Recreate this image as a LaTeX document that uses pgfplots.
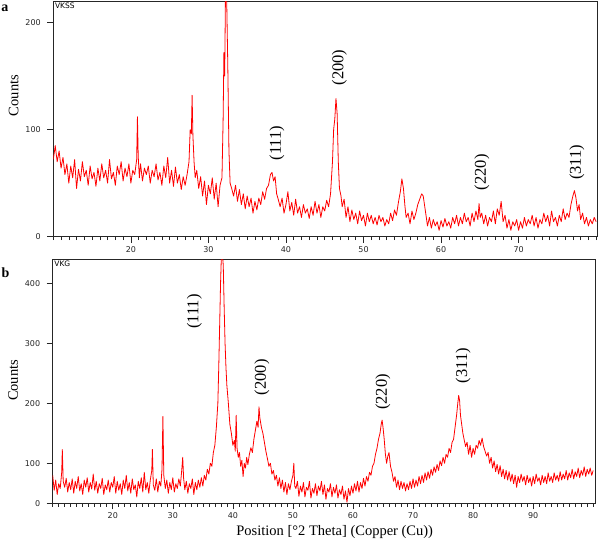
\documentclass[border=0pt]{standalone}
\usepackage{pgfplots}
\pgfplotsset{compat=1.18}
\usepackage{fontspec}
\setmainfont{Liberation Serif}
\newfontfamily\ticksans{DejaVu Sans}

\pgfplotsset{
  xrd/.style={
    scale only axis,
    xmin=10,
    axis line style={line width=0.8pt, black!85},
    tick align=outside,
    xtick pos=bottom, ytick pos=left,
    major tick length=6pt, minor tick length=3.5pt,
    tick style={black!85, line width=0.6pt},
    ticklabel style={font=\ticksans\fontsize{8}{9}\selectfont, text=black!85},
    yticklabel style={xshift=-3pt},
    /pgf/number format/assume math mode=true,
    ylabel={Counts},
    ylabel style={font=\fontsize{14.5}{16}\selectfont, xshift=-3pt},
  },
  xrdline/.style={red, no markers, line width=0.8pt, line join=round},
}
\tikzset{
  hkl/.style={rotate=90, font=\fontsize{16.5}{18}\selectfont},
  tag/.style={anchor=north west, inner sep=1.5pt, font=\ticksans\fontsize{7.5}{8}\selectfont},
}

\begin{document}
\begin{tikzpicture}
\path[use as bounding box] (0pt,0pt) rectangle (600pt,-544pt);

% ---------- a : VKSS ----------
\begin{axis}[xrd,
  at={(53.3pt,-236.7pt)}, anchor=south west,
  width=544.4pt, height=235.7pt,
  xmax=80.2, ymin=0, ymax=220,
  xtick={20,30,...,70}, minor xtick={10,11,...,80},
  ytick={0,100,200},
  ylabel style={at={(ticklabel cs:0.612)}},
]
\addplot[xrdline] coordinates {
(10.00,72)(10.25,85)(10.50,70)(10.75,80)(11.00,64)(11.25,74)(11.50,58)(11.75,68)
(12.00,50)(12.25,66)(12.50,55)(12.75,72)(13.00,45)(13.25,63)(13.50,52)(13.75,70)
(14.00,56)(14.25,62)(14.50,48)(14.75,66)(15.00,54)(15.25,60)(15.50,47)(15.75,64)
(16.00,52)(16.25,68)(16.50,55)(16.75,62)(17.00,50)(17.25,72)(17.50,54)(17.75,60)
(18.00,48)(18.25,66)(18.50,58)(18.75,70)(19.00,52)(19.25,64)(19.50,56)(19.75,68)
(20.00,50)(20.25,62)(20.50,58)(20.75,72)(20.85,112)(20.95,75)(21.10,55)(21.25,68)
(21.50,52)(21.75,64)(22.00,58)(22.25,66)(22.50,50)(22.75,62)(23.00,56)(23.25,68)
(23.50,53)(23.75,60)(24.00,48)(24.25,66)(24.50,55)(24.75,74)(25.00,50)(25.25,62)
(25.50,47)(25.75,65)(26.00,50)(26.25,58)(26.50,44)(26.75,56)(27.00,48)(27.25,58)
(27.50,70)(27.65,100)(27.80,96)(27.90,132)(28.00,95)(28.15,70)(28.30,55)(28.50,62)
(28.75,45)(29.00,56)(29.25,38)(29.50,52)(29.75,30)(30.00,48)(30.25,40)(30.50,55)
(30.75,35)(31.00,50)(31.25,28)(31.50,48)(31.75,55)(31.90,110)(32.00,172)(32.10,150)
(32.20,225)(32.35,225)(32.50,160)(32.65,80)(32.80,50)(33.00,45)(33.25,38)(33.50,48)
(33.75,33)(34.00,44)(34.25,30)(34.50,40)(34.75,26)(35.00,38)(35.25,28)(35.50,36)
(35.75,22)(36.00,33)(36.25,25)(36.50,36)(36.75,30)(37.00,42)(37.25,35)(37.50,45)
(37.75,48)(38.00,58)(38.20,60)(38.40,52)(38.60,56)(38.80,40)(39.00,35)(39.25,28)
(39.50,36)(39.75,22)(40.00,30)(40.25,42)(40.50,24)(40.75,32)(41.00,20)(41.25,35)
(41.50,22)(41.75,28)(42.00,18)(42.25,30)(42.50,22)(42.75,26)(43.00,17)(43.25,28)
(43.50,20)(43.75,33)(44.00,22)(44.25,30)(44.50,18)(44.75,28)(45.00,24)(45.25,34)
(45.50,28)(45.75,40)(46.00,70)(46.15,100)(46.30,110)(46.45,129)(46.60,115)(46.75,70)
(46.90,45)(47.10,38)(47.25,28)(47.50,35)(47.75,18)(48.00,28)(48.25,14)(48.50,25)
(48.75,16)(49.00,22)(49.25,12)(49.50,24)(49.75,15)(50.00,20)(50.25,10)(50.50,22)
(50.75,14)(51.00,20)(51.25,12)(51.50,18)(51.75,11)(52.00,20)(52.25,14)(52.50,18)
(52.75,10)(53.00,16)(53.25,12)(53.50,22)(53.75,15)(54.00,25)(54.25,20)(54.50,32)
(54.75,42)(54.95,54)(55.15,45)(55.35,28)(55.50,18)(55.75,22)(56.00,12)(56.25,24)
(56.50,16)(56.75,22)(57.00,30)(57.25,35)(57.50,40)(57.70,38)(57.90,28)(58.10,18)
(58.25,10)(58.50,18)(58.75,8)(59.00,16)(59.25,10)(59.50,14)(59.75,6)(60.00,15)
(60.25,9)(60.50,17)(60.75,10)(61.00,14)(61.25,8)(61.50,18)(61.75,12)(62.00,20)
(62.25,10)(62.50,18)(62.75,12)(63.00,22)(63.25,14)(63.50,18)(63.75,10)(64.00,22)
(64.25,14)(64.50,24)(64.75,16)(64.90,31)(65.05,18)(65.25,22)(65.50,12)(65.75,20)
(66.00,10)(66.25,18)(66.50,14)(66.75,24)(67.00,12)(67.25,26)(67.50,20)(67.75,33)
(68.00,14)(68.25,20)(68.50,8)(68.75,16)(69.00,6)(69.25,14)(69.50,10)(69.75,16)
(70.00,6)(70.25,14)(70.50,8)(70.75,18)(71.00,10)(71.25,16)(71.50,12)(71.75,20)
(72.00,10)(72.25,18)(72.50,8)(72.75,16)(73.00,12)(73.25,22)(73.50,14)(73.75,20)
(74.00,10)(74.25,24)(74.50,14)(74.75,18)(75.00,10)(75.25,20)(75.50,14)(75.75,26)
(76.00,16)(76.25,22)(76.50,18)(76.75,30)(77.00,38)(77.20,43)(77.40,36)(77.60,24)
(77.80,30)(78.00,16)(78.25,22)(78.50,12)(78.75,18)(79.00,10)(79.25,16)(79.50,12)
(79.75,18)(80.00,14)
};
\node[tag] at (rel axis cs:0,1) {VKSS};
\node[hkl] at (axis cs:38.83,87.5) {(111)};
\node[hkl] at (axis cs:46.9,158) {(200)};
\node[hkl] at (axis cs:65.28,60.2) {(220)};
\node[hkl] at (axis cs:77.53,69.5) {(311)};
\end{axis}

% ---------- b : VKG ----------
\begin{axis}[xrd,
  at={(52.7pt,-503.3pt)}, anchor=south west,
  width=542.3pt, height=244pt,
  xmax=100.3, ymin=33.3, ymax=440,
  xtick={20,30,...,90}, minor xtick={10,11,...,100},
  ytick={33.3,100,200,300,400}, yticklabels={0,100,200,300,400},
  ylabel style={at={(ticklabel cs:0.516)}},
  xlabel={Position [°2 Theta] (Copper (Cu))},
  xlabel style={font=\fontsize{14.5}{16}\selectfont, at={(ticklabel cs:0.52)}},
]
\addplot[xrdline] coordinates {
(10.00,80)(10.25,55)(10.50,72)(10.75,48)(11.00,66)(11.25,58)(11.50,85)(11.60,123)
(11.75,70)(12.00,60)(12.25,75)(12.50,52)(12.75,68)(13.00,56)(13.25,74)(13.50,50)
(13.75,70)(14.00,58)(14.25,78)(14.50,54)(14.75,66)(15.00,48)(15.25,72)(15.50,60)
(15.75,76)(16.00,52)(16.25,68)(16.50,57)(16.75,82)(17.00,55)(17.25,70)(17.50,50)
(17.75,66)(18.00,58)(18.25,75)(18.50,48)(18.75,64)(19.00,56)(19.25,72)(19.50,52)
(19.75,68)(20.00,60)(20.25,78)(20.50,50)(20.75,70)(21.00,55)(21.25,66)(21.50,48)
(21.75,72)(22.00,58)(22.25,80)(22.50,54)(22.75,68)(23.00,50)(23.25,74)(23.50,56)
(23.75,64)(24.00,44)(24.25,70)(24.50,58)(24.75,76)(25.00,52)(25.25,85)(25.50,56)
(25.75,68)(26.00,50)(26.25,72)(26.50,88)(26.60,123)(26.75,64)(27.00,55)(27.25,74)
(27.50,52)(27.75,70)(28.00,62)(28.20,90)(28.35,178)(28.50,80)(28.75,58)(29.00,72)
(29.25,50)(29.50,68)(29.75,56)(30.00,76)(30.25,52)(30.50,66)(30.75,58)(31.00,74)
(31.25,62)(31.50,90)(31.65,110)(31.80,75)(32.00,56)(32.25,70)(32.50,50)(32.75,66)
(33.00,58)(33.25,74)(33.50,48)(33.75,68)(34.00,56)(34.25,72)(34.50,60)(34.75,76)
(35.00,62)(35.25,80)(35.50,72)(35.75,90)(36.00,82)(36.25,100)(36.50,95)(36.75,118)
(37.00,130)(37.25,160)(37.50,200)(37.65,260)(37.80,330)(37.95,400)(38.10,450)(38.25,450)
(38.40,430)(38.55,360)(38.70,300)(38.85,260)(39.00,230)(39.25,200)(39.50,165)(39.75,150)
(40.00,130)(40.25,138)(40.40,120)(40.55,180)(40.70,125)(40.90,110)(41.10,118)(41.30,95)
(41.50,105)(41.70,78)(41.90,100)(42.10,92)(42.30,110)(42.50,98)(42.75,115)(43.00,126)
(43.25,118)(43.50,140)(43.75,155)(44.00,170)(44.20,160)(44.35,194)(44.50,175)(44.75,160)
(45.00,150)(45.25,135)(45.50,120)(45.75,108)(46.00,95)(46.25,100)(46.50,82)(46.75,88)
(47.00,72)(47.25,80)(47.50,62)(47.75,76)(48.00,58)(48.25,72)(48.50,52)(48.75,68)
(49.00,48)(49.25,66)(49.50,56)(49.75,70)(50.00,80)(50.15,100)(50.30,62)(50.50,58)
(50.75,70)(51.00,45)(51.25,62)(51.50,52)(51.75,68)(52.00,44)(52.25,60)(52.50,55)
(52.75,70)(53.00,42)(53.25,58)(53.50,50)(53.75,66)(54.00,46)(54.25,62)(54.50,54)
(54.75,70)(55.00,48)(55.25,64)(55.50,40)(55.75,58)(56.00,52)(56.25,66)(56.50,44)
(56.75,60)(57.00,50)(57.25,64)(57.50,42)(57.75,56)(58.00,48)(58.25,62)(58.50,40)
(58.75,54)(59.00,35)(59.25,58)(59.50,46)(59.75,62)(60.00,50)(60.25,66)(60.50,54)
(60.75,70)(61.00,52)(61.25,68)(61.50,58)(61.75,75)(62.00,62)(62.25,78)(62.50,70)
(62.75,85)(63.00,80)(63.25,95)(63.50,100)(63.75,115)(64.00,125)(64.25,140)(64.50,150)
(64.70,165)(64.85,172)(65.00,160)(65.20,140)(65.40,115)(65.60,100)(65.80,112)(66.00,118)
(66.25,95)(66.50,85)(66.75,70)(67.00,78)(67.25,60)(67.50,72)(67.75,56)(68.00,70)
(68.25,58)(68.50,68)(68.75,54)(69.00,66)(69.25,56)(69.50,70)(69.75,58)(70.00,74)
(70.25,60)(70.50,72)(70.75,62)(71.00,78)(71.25,66)(71.50,80)(71.75,68)(72.00,84)
(72.25,72)(72.50,86)(72.75,75)(73.00,90)(73.25,80)(73.50,94)(73.75,85)(74.00,98)
(74.25,88)(74.50,104)(74.75,96)(75.00,110)(75.25,100)(75.50,115)(75.75,110)(76.00,125)
(76.25,118)(76.50,135)(76.75,140)(77.00,160)(77.25,180)(77.45,200)(77.60,213)(77.75,205)
(77.90,180)(78.10,165)(78.30,150)(78.50,140)(78.75,128)(79.00,135)(79.25,115)(79.50,130)
(79.75,110)(80.00,125)(80.25,115)(80.50,130)(80.75,125)(81.00,138)(81.25,130)(81.50,142)
(81.75,128)(82.00,120)(82.25,112)(82.50,118)(82.75,100)(83.00,110)(83.25,92)(83.50,104)
(83.75,86)(84.00,98)(84.25,82)(84.50,96)(84.75,78)(85.00,90)(85.25,74)(85.50,88)
(85.75,72)(86.00,86)(86.25,70)(86.50,82)(86.75,66)(87.00,80)(87.25,60)(87.50,78)
(87.75,68)(88.00,82)(88.25,70)(88.50,78)(88.75,64)(89.00,80)(89.25,68)(89.50,76)
(89.75,62)(90.00,78)(90.25,66)(90.50,82)(90.75,70)(91.00,76)(91.25,64)(91.50,80)
(91.75,68)(92.00,78)(92.25,66)(92.50,84)(92.75,70)(93.00,78)(93.25,68)(93.50,84)
(93.75,72)(94.00,80)(94.25,70)(94.50,86)(94.75,72)(95.00,82)(95.25,74)(95.50,88)
(95.75,72)(96.00,84)(96.25,76)(96.50,90)(96.75,74)(97.00,86)(97.25,78)(97.50,92)
(97.75,76)(98.00,88)(98.25,80)(98.50,94)(98.75,78)(99.00,90)(99.25,82)(99.50,92)
(99.75,80)(100.00,88)
};
\node[tag] at (rel axis cs:0,1) {VKG};
\node[hkl] at (axis cs:33.6,352.7) {(111)};
\node[hkl] at (axis cs:44.83,243.5) {(200)};
\node[hkl] at (axis cs:65,218.8) {(220)};
\node[hkl] at (axis cs:78.33,262.5) {(311)};
\end{axis}

\node[anchor=base, font=\bfseries\fontsize{14}{16}\selectfont] at (5pt,-11.7pt) {a};
\node[anchor=base, font=\bfseries\fontsize{14}{16}\selectfont] at (5.5pt,-277pt) {b};
\end{tikzpicture}
\end{document}
